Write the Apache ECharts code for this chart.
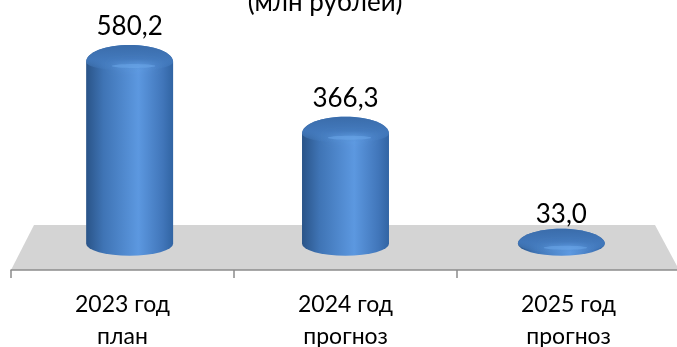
<!DOCTYPE html>
<html>
<head>
<meta charset="utf-8">
<style>
  html, body { margin: 0; padding: 0; background: #fff; }
  #chart { width: 677px; height: 347px; }
</style>
<script src="https://cdn.jsdelivr.net/npm/echarts@6/dist/echarts.min.js"></script>
</head>
<body>
<div id="chart"></div>
<script>
const categories = ['2023 год\nплан', '2024 год\nпрогноз', '2025 год\nпрогноз'];
const values = [580.2, 366.3, 33.0];
const valueLabels = ['580,2', '366,3', '33,0'];
const titleText = '(млн рублей)';

const FONT = 'Lato, "Open Sans", sans-serif';
const sideGradient = () => new echarts.graphic.LinearGradient(0, 0, 1, 0, [
  { offset: 0, color: '#2a5488' },
  { offset: 0.2, color: '#3f74b5' },
  { offset: 0.6, color: '#5c98e0' },
  { offset: 0.88, color: '#4176ba' },
  { offset: 1, color: '#3164a3' }
]);
const capGradient = () => new echarts.graphic.LinearGradient(0, 0, 0, 1, [
  { offset: 0, color: 'rgba(58,108,170,1)' },
  { offset: 0.55, color: 'rgba(66,120,187,0.95)' },
  { offset: 1, color: 'rgba(80,140,210,0)' }
]);

// the floor pulls the columns slightly toward the middle, like the 3D chart
const renderColumn = (params, api) => {
  const top = api.coord([api.value(0), api.value(1)]);
  const zero = api.coord([api.value(0), 0]);
  const midX = params.coordSys.x + params.coordSys.width / 2;
  const cx = midX + (top[0] - midX) * 0.968;
  const rx = api.size([1, 0])[0] * 0.195;
  const ry = 12;
  const y0 = top[1];
  const baseY = zero[1] + 4;
  const sy = Math.min(y0 + 17, baseY);
  const isShort = baseY - y0 < 40;
  const crown = [
    'M', cx - rx, sy,
    'C', cx - rx, y0 + 7, cx - rx * 0.55, y0, cx, y0,
    'C', cx + rx * 0.55, y0, cx + rx, y0 + 7, cx + rx, sy
  ].join(' ');
  const body = crown + ' ' + [
    'L', cx + rx, baseY,
    'A', rx, ry, 0, 0, 1, cx - rx, baseY,
    'Z'
  ].join(' ');
  const cap = crown + ' ' + [
    'A', rx, 9, 0, 0, 1, cx - rx, sy,
    'Z'
  ].join(' ');
  return {
    type: 'group',
    children: [
      { type: 'path', shape: { pathData: body }, style: { fill: sideGradient() } },
      { type: 'path', shape: { pathData: cap }, style: { fill: capGradient() } },
      {
        type: 'ellipse',
        shape: { cx: cx + 4, cy: sy + 4, rx: rx * 0.5, ry: 2 },
        style: {
          fill: 'rgba(110,170,235,0.5)',
          shadowBlur: 7,
          shadowColor: 'rgba(110,170,235,0.8)'
        }
      },
      {
        type: 'text',
        style: {
          text: valueLabels[params.dataIndex],
          x: cx,
          y: y0 - (isShort ? 14 : 18),
          align: 'center',
          verticalAlign: 'middle',
          font: '26px ' + FONT,
          fill: '#000'
        }
      }
    ]
  };
};

const chart = echarts.init(document.getElementById('chart'));
chart.setOption({
  animation: false,
  title: {
    text: titleText,
    left: 320,
    top: -15,
    textAlign: 'center',
    textStyle: { fontFamily: FONT, fontSize: 26, fontWeight: 'normal', color: '#000' }
  },
  grid: { left: 11, right: -3, top: 0, height: 270, outerBoundsMode: 'none' },
  graphic: [
    {
      type: 'polygon',
      z: -1,
      shape: { points: [[34, 225], [655, 225], [677, 266], [677, 270], [11, 270]] },
      style: { fill: '#d4d4d4' }
    }
  ],
  xAxis: {
    type: 'category',
    data: categories,
    axisLine: { onZero: false, lineStyle: { color: '#8c8c8c', width: 1.5 } },
    axisTick: { show: true, length: 8, alignWithLabel: false, lineStyle: { color: '#8c8c8c', width: 1.5 } },
    axisLabel: { color: '#000', fontFamily: FONT, fontSize: 23, lineHeight: 32, margin: 19, interval: 0 }
  },
  yAxis: { type: 'value', min: -90, max: 714, show: false, splitLine: { show: false } },
  series: [
    {
      type: 'custom',
      renderItem: renderColumn,
      encode: { x: 0, y: 1 },
      data: categories.map((c, i) => [i, values[i]]),
      clip: false
    }
  ]
});
</script>
</body>
</html>
